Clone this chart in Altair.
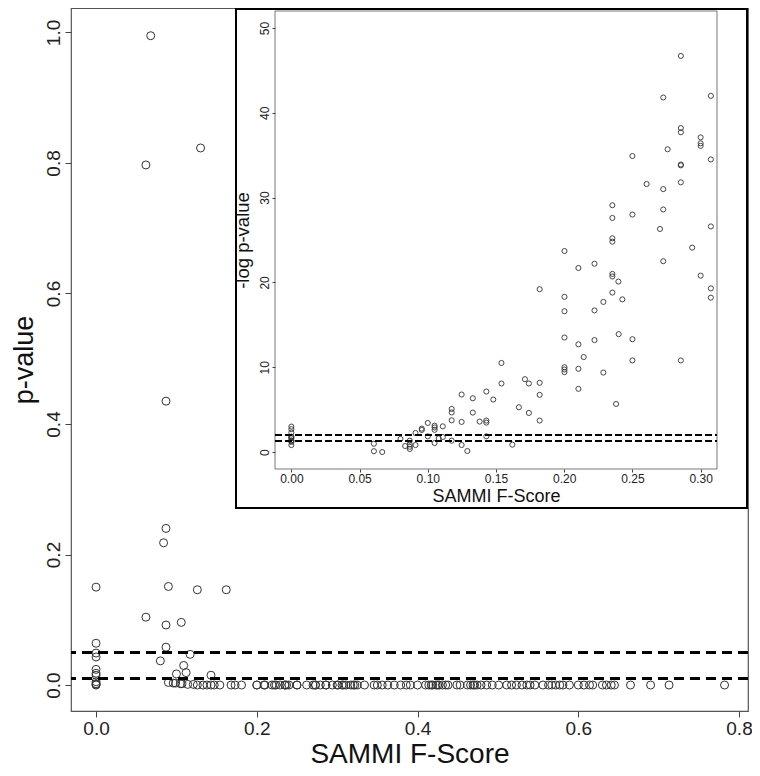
import altair as alt
import pandas as pd

# ---------------- data ----------------
# main panel: SAMMI F-Score vs p-value
main_f = [
    0.0, 0.0, 0.0, 0.0, 0.0, 0.0, 0.0, 0.0, 0.0, 0.0, 0.0,
    0.068, 0.062, 0.130, 0.087, 0.087, 0.084, 0.090, 0.126, 0.162, 0.062,
    0.087, 0.106, 0.087, 0.117, 0.080, 0.109, 0.100, 0.112, 0.143,
    0.090, 0.096, 0.099, 0.105, 0.107, 0.114, 0.121, 0.126, 0.133, 0.138,
    0.143, 0.147, 0.154, 0.168, 0.173, 0.181, 0.200, 0.200, 0.209, 0.210,
    0.219, 0.222, 0.224, 0.229, 0.235, 0.235, 0.237, 0.240, 0.250, 0.250,
    0.262, 0.270, 0.273, 0.273, 0.279, 0.286, 0.286, 0.294, 0.300, 0.301,
    0.306, 0.308, 0.311, 0.317, 0.320, 0.322, 0.325, 0.334, 0.346, 0.350,
    0.356, 0.363, 0.371, 0.379, 0.386, 0.391, 0.400, 0.410, 0.414, 0.417,
    0.419, 0.423, 0.425, 0.427, 0.431, 0.435, 0.438, 0.449, 0.453, 0.462,
    0.466, 0.469, 0.471, 0.474, 0.479, 0.486, 0.493, 0.501, 0.511, 0.517,
    0.523, 0.530, 0.536, 0.540, 0.546, 0.556, 0.563, 0.567, 0.572, 0.577,
    0.581, 0.589, 0.600, 0.607, 0.614, 0.618, 0.630, 0.635, 0.641, 0.645,
    0.665, 0.690, 0.713, 0.782,
]
main_p = [
    0.150, 0.064, 0.049, 0.043, 0.024, 0.018, 0.015, 0.005, 0.002, 0.001, 0.0,
    0.995, 0.797, 0.823, 0.435, 0.240, 0.218, 0.151, 0.146, 0.146, 0.104,
    0.092, 0.096, 0.058, 0.047, 0.037, 0.030, 0.017, 0.019, 0.015,
    0.004, 0.003, 0.003, 0.002, 0.002, 0.001, 0.001, 0.0, 0.0, 0.0,
    0.0, 0.0, 0.0, 0.0, 0.0, 0.0, 0.0, 0.0, 0.0, 0.0,
    0.0, 0.0, 0.0, 0.0, 0.0, 0.0, 0.0, 0.0, 0.0, 0.0,
    0.0, 0.0, 0.0, 0.0, 0.0, 0.0, 0.0, 0.0, 0.0, 0.0,
    0.0, 0.0, 0.0, 0.0, 0.0, 0.0, 0.0, 0.0, 0.0, 0.0,
    0.0, 0.0, 0.0, 0.0, 0.0, 0.0, 0.0, 0.0, 0.0, 0.0,
    0.0, 0.0, 0.0, 0.0, 0.0, 0.0, 0.0, 0.0, 0.0, 0.0,
    0.0, 0.0, 0.0, 0.0, 0.0, 0.0, 0.0, 0.0, 0.0, 0.0,
    0.0, 0.0, 0.0, 0.0, 0.0, 0.0, 0.0, 0.0, 0.0, 0.0,
    0.0, 0.0, 0.0, 0.0, 0.0, 0.0, 0.0, 0.0, 0.0, 0.0,
    0.0, 0.0, 0.0, 0.0,
]

# inset: SAMMI F-Score vs -log10 p-value
inset_f = [
    0.0, 0.0, 0.0, 0.0, 0.0, 0.0, 0.0, 0.0, 0.0, 0.0,
    0.0605, 0.0605, 0.0666, 0.080, 0.0834,
    0.0868, 0.0868, 0.0868, 0.0868, 0.091, 0.091, 0.0956, 0.0956,
    0.100, 0.100, 0.105, 0.105, 0.105, 0.105, 0.108, 0.111, 0.111,
    0.1175, 0.1175, 0.1175, 0.1175, 0.1248, 0.1248, 0.1248, 0.129,
    0.133, 0.133, 0.138, 0.1429, 0.1429, 0.1429, 0.1429, 0.148,
    0.154, 0.154, 0.162, 0.1668, 0.1712, 0.1741, 0.1741,
    0.182, 0.182, 0.182, 0.182,
    0.2002, 0.2002, 0.2002, 0.2002, 0.2002, 0.2002, 0.2002,
    0.2104, 0.2104, 0.2104, 0.2104, 0.2143,
    0.2222, 0.2222, 0.2222, 0.2287, 0.2287,
    0.2353, 0.2353, 0.2353, 0.2353, 0.2353, 0.2353, 0.2353,
    0.238, 0.2397, 0.2399, 0.2426,
    0.250, 0.250, 0.250, 0.250, 0.2604, 0.2702,
    0.2726, 0.2726, 0.2726, 0.2726, 0.2758,
    0.2855, 0.2855, 0.2855, 0.2855, 0.2855, 0.2855, 0.2855, 0.2938,
    0.300, 0.300, 0.300, 0.300,
    0.3075, 0.3075, 0.3075, 0.3075, 0.3075,
]
inset_nlp = [
    0.82, 1.19, 1.31, 1.37, 1.62, 1.74, 1.82, 2.30, 2.70, 3.00,
    0.98, 0.10, 0.0, 1.54, 0.71,
    1.34, 0.90, 0.62, 0.36, 2.25, 0.82, 2.76, 2.60,
    3.43, 1.85, 3.11, 2.90, 2.62, 1.06, 1.62, 3.03, 1.77,
    5.08, 4.67, 3.74, 1.34, 6.78, 3.55, 0.83, 0.12,
    6.34, 4.65, 3.59, 7.13, 3.71, 3.47, 1.85, 6.19,
    10.5, 8.08, 0.87, 5.28, 8.59, 8.08, 4.61,
    19.2, 8.16, 6.74, 3.71,
    23.7, 18.3, 16.6, 13.5, 10.0, 9.73, 9.42,
    21.7, 12.7, 9.81, 7.45, 11.2,
    22.2, 16.7, 13.2, 17.7, 9.37,
    29.1, 27.6, 25.2, 24.8, 21.0, 20.7, 18.8,
    5.67, 20.1, 13.9, 18.0,
    34.9, 28.0, 13.3, 10.8, 31.6, 26.3,
    41.8, 31.0, 28.6, 22.5, 35.7,
    46.7, 38.2, 37.7, 33.9, 33.8, 31.8, 10.8, 24.1,
    37.1, 36.4, 36.1, 20.8,
    42.0, 34.5, 26.6, 19.3, 18.2,
]

main_thresholds = [0.05, 0.01]
inset_thresholds = [1.301, 2.0]
main_x_ticks = [0.0, 0.2, 0.4, 0.6, 0.8]
main_y_ticks = [0.0, 0.2, 0.4, 0.6, 0.8, 1.0]
inset_x_ticks = [0.0, 0.05, 0.10, 0.15, 0.20, 0.25, 0.30]
inset_y_ticks = [0, 10, 20, 30, 40, 50]

# ---------------- layout ----------------
W, H = 677, 703
PAD_L, PAD_R, PAD_B = 63, 4, 57
FONT = "Liberation Sans"
# inset placement inside the main plot area (pixels)
FX0, FX1, FY0, FY1 = 165, 676, 1, 500      # outer frame
IX0, IX1, IY0, IY1 = 204, 646, 3, 461      # inset plot area

main_df = pd.DataFrame({"F": main_f, "p": main_p})
inset_df = pd.DataFrame({"F": inset_f, "v": inset_nlp})
main_thr_df = pd.DataFrame({"p": main_thresholds})
inset_thr_df = pd.DataFrame({"v": inset_thresholds})
one_df = pd.DataFrame({"a": [0]})

sx_main = alt.Scale(domain=[-0.0312, 0.8112], nice=False, zero=False)
sy_main = alt.Scale(domain=[-0.0398, 1.0375], nice=False, zero=False)
sx_in = alt.Scale(domain=[-0.012, 0.312], range=[IX0, IX1], nice=False, zero=False)
sy_in = alt.Scale(domain=[-2.0, 52.0], range=[IY1, IY0], nice=False, zero=False)

ax_main_x = alt.Axis(
    orient="bottom",
    values=main_x_ticks, format=".1f", grid=False, domain=False,
    tickSize=6, tickColor="#444", tickWidth=1,
    labelFont=FONT, labelFontSize=19, labelColor="#222", labelPadding=2,
    labelFlush=False, labelOverlap=False,
    title="SAMMI F-Score", titleFont=FONT, titleFontSize=28, titleFontWeight="normal",
    titleColor="#111", titleX=W / 2, titleY=51, titleAlign="center",
    titleBaseline="alphabetic",
)
ax_main_y = alt.Axis(
    orient="left",
    values=main_y_ticks, format=".1f", grid=False, domain=False,
    tickSize=6, tickColor="#444", tickWidth=1,
    labelFont=FONT, labelFontSize=19, labelColor="#222", labelPadding=6,
    labelAngle=270, labelAlign="center", labelBaseline="alphabetic",
    labelFlush=False, labelOverlap=False,
    title="p-value", titleFont=FONT, titleFontSize=27, titleFontWeight="normal",
    titleColor="#111", titleAngle=270, titleX=-39, titleY=H / 2,
    titleAlign="center", titleBaseline="alphabetic",
)
ax_in_x = alt.Axis(
    orient="bottom", offset=IY1 - H, zindex=2,
    values=inset_x_ticks, format=".2f", grid=False, domain=False,
    tickSize=3, tickColor="#444", tickWidth=1,
    labelFont=FONT, labelFontSize=12, labelColor="#222", labelPadding=1,
    labelFlush=False, labelOverlap=False,
    title="SAMMI F-Score", titleFont=FONT, titleFontSize=18, titleFontWeight="normal",
    titleColor="#111", titleX=(IX0 + IX1) / 2, titleY=32, titleAlign="center",
    titleBaseline="alphabetic",
)
ax_in_y = alt.Axis(
    orient="left", offset=-IX0, zindex=2,
    values=inset_y_ticks, format="d", grid=False, domain=False,
    tickSize=3, tickColor="#444", tickWidth=1,
    labelFont=FONT, labelFontSize=12, labelColor="#222", labelPadding=4,
    labelAngle=270, labelAlign="center", labelBaseline="alphabetic",
    labelFlush=False, labelOverlap=False,
    title="-log p-value", titleFont=FONT, titleFontSize=18.5, titleFontWeight="normal",
    titleColor="#111", titleAngle=270, titleX=-27, titleY=(IY0 + IY1) / 2,
    titleAlign="center", titleBaseline="alphabetic",
)

# ---------------- main panel ----------------
main_pts = alt.Chart(main_df).mark_point(
    shape="circle", filled=False, size=64, color="#333", strokeWidth=1, opacity=1
).encode(
    x=alt.X("F:Q", scale=sx_main, axis=ax_main_x),
    y=alt.Y("p:Q", scale=sy_main, axis=ax_main_y),
)
main_rules = alt.Chart(main_thr_df).mark_rule(
    color="black", strokeWidth=3, strokeDash=[10, 6]
).encode(y=alt.Y("p:Q", scale=sy_main, axis=ax_main_y))

main_layer = alt.layer(main_pts, main_rules)

# ---------------- inset ----------------
frame = alt.Chart(one_df).mark_rect(
    fill="white", stroke="black", strokeWidth=2
).encode(
    x=alt.value(FX0), x2=alt.value(FX1), y=alt.value(FY0), y2=alt.value(FY1)
)
inner_box = alt.Chart(one_df).mark_rect(
    fill="white", stroke="#777", strokeWidth=1
).encode(
    x=alt.value(IX0), x2=alt.value(IX1), y=alt.value(IY0), y2=alt.value(IY1)
)
inset_pts = alt.Chart(inset_df).mark_point(
    shape="circle", filled=False, size=26, color="#333", strokeWidth=0.9, opacity=1
).encode(
    x=alt.X("F:Q", scale=sx_in, axis=ax_in_x),
    y=alt.Y("v:Q", scale=sy_in, axis=ax_in_y),
)
inset_rules = alt.Chart(inset_thr_df).mark_rule(
    color="black", strokeWidth=2, strokeDash=[7, 3]
).encode(
    y=alt.Y("v:Q", scale=sy_in, axis=ax_in_y),
    x=alt.value(IX0), x2=alt.value(IX1),
)

inset_layer = alt.layer(frame, inner_box, inset_pts, inset_rules)

chart = alt.layer(main_layer, inset_layer).resolve_scale(
    x="independent", y="independent"
).resolve_axis(
    x="independent", y="independent"
).properties(
    width=W, height=H,
    autosize=alt.AutoSizeParams(type="none"),
    padding={"left": PAD_L, "top": 0, "right": PAD_R, "bottom": PAD_B},
    background="white",
).configure_view(stroke="#555", strokeWidth=1.2)

chart.save("out.html", embed_options={"renderer": "svg", "actions": False})
